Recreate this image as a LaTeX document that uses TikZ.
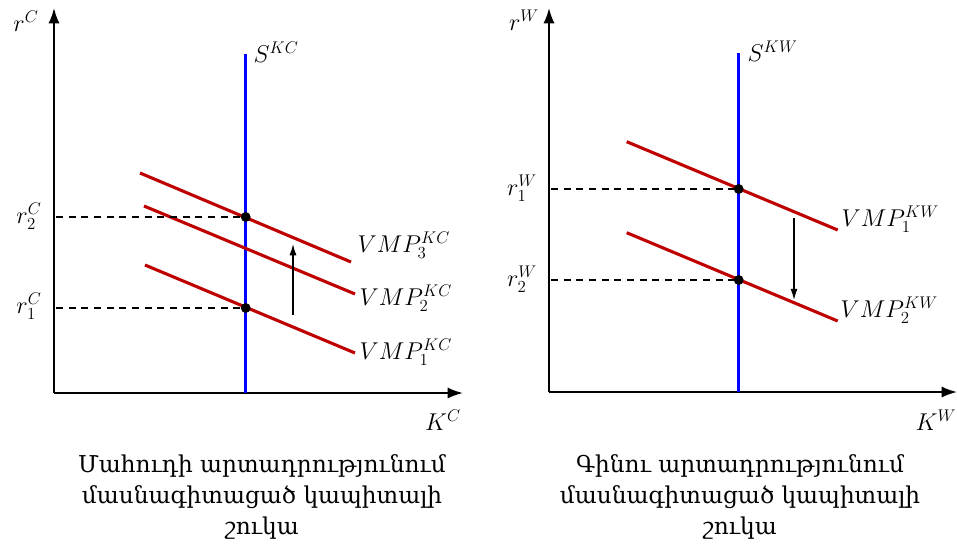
\documentclass[tikz,border=0pt]{standalone}
\usepackage{fontspec}
\newfontfamily\armfont{DejaVu Serif}
\usetikzlibrary{arrows.meta}
\tikzset{
  axis/.style={line width=1.4pt,-{Latex[length=11pt,width=8pt]}},
  supply/.style={line width=2.2pt,blue},
  vmp/.style={line width=2.2pt,red!75!black},
  guide/.style={line width=0.9pt,dash pattern=on 5pt off 4pt},
  moved/.style={line width=0.9pt,-{Latex[length=8pt,width=5pt]}},
  eq/.style={circle,fill,inner sep=0pt,minimum size=7pt},
  lbl/.style={font=\fontsize{17}{20}\selectfont,inner sep=1pt},
  caption/.style={font=\armfont\fontsize{16.5}{22}\selectfont,align=center}
}
\begin{document}
\begin{tikzpicture}[x=0.025cm,y=-0.025cm]
\useasboundingbox (0,0) rectangle (957,546);
% left panel
\coordinate (o1) at (54,393);
\coordinate (ytop1) at (54,8);
\coordinate (xend1) at (463,393);
\draw[axis] (o1) -- (ytop1);
\draw[axis] (o1) -- (xend1);
\coordinate (sb1) at (245.7,393);
\coordinate (st1) at (245.7,54);
\draw[supply] (sb1) -- (st1);
\draw[vmp] (140,173) coordinate (a3) -- (351,262) coordinate (b3);
\draw[vmp] (144,206) coordinate (a2) -- (355,294) coordinate (b2);
\draw[vmp] (145,265) coordinate (a1) -- (355,353) coordinate (b1);
\node[eq] (e2) at (245.7,217) {};
\node[eq] (e1) at (245.7,308) {};
\coordinate (d2) at (56,217);
\coordinate (d1) at (56,308);
\draw[guide] (d2) -- (e2);
\draw[guide] (d1) -- (e1);
\coordinate (up0) at (293,315);
\coordinate (up1) at (293,244);
\draw[moved] (up0) -- (up1);
\node[lbl] (rC) at (26,21) {$r^C$};
\node[lbl] (r2C) at (29,216) {$r_2^C$};
\node[lbl] (r1C) at (29,306) {$r_1^C$};
\node[lbl,anchor=west] (SKC) at (252,52) {$S^{KC}$};
\node[lbl,anchor=west] (V3) at (356,245) {$VMP_3^{KC}$};
\node[lbl,anchor=west] (V2) at (358,298) {$VMP_2^{KC}$};
\node[lbl,anchor=west] (V1) at (358,352) {$VMP_1^{KC}$};
\node[lbl] (KC) at (443,420) {$K^C$};
\node[caption] (capC) at (262,497) {Մահուդի արտադրությունում\\մասնագիտացած կապիտալի\\շուկա};
% right panel
\coordinate (o2) at (549,392);
\coordinate (ytop2) at (549,8);
\coordinate (xend2) at (957,392);
\draw[axis] (o2) -- (ytop2);
\draw[axis] (o2) -- (xend2);
\coordinate (sb2) at (738.7,392);
\coordinate (st2) at (738.7,53);
\draw[supply] (sb2) -- (st2);
\draw[vmp] (626.7,141.7) coordinate (p1) -- (837.7,230) coordinate (q1);
\draw[vmp] (626.7,232.7) coordinate (p2) -- (837.7,321) coordinate (q2);
\node[eq] (f1) at (738.7,189) {};
\node[eq] (f2) at (738.7,280) {};
\coordinate (g1) at (551,189);
\coordinate (g2) at (551,280);
\draw[guide] (g1) -- (f1);
\draw[guide] (g2) -- (f2);
\coordinate (dn0) at (794,218);
\coordinate (dn1) at (794,300);
\draw[moved] (dn0) -- (dn1);
\node[lbl] (rW) at (524,20) {$r^W$};
\node[lbl] (r1W) at (522,188) {$r_1^W$};
\node[lbl] (r2W) at (522,279) {$r_2^W$};
\node[lbl,anchor=west] (SKW) at (746,51) {$S^{KW}$};
\node[lbl,anchor=west] (W1) at (840,219) {$VMP_1^{KW}$};
\node[lbl,anchor=west] (W2) at (839,310) {$VMP_2^{KW}$};
\node[lbl] (KW) at (936,420) {$K^W$};
\node[caption] (capW) at (740,497) {Գինու արտադրությունում\\մասնագիտացած կապիտալի\\շուկա};
\end{tikzpicture}
\end{document}
